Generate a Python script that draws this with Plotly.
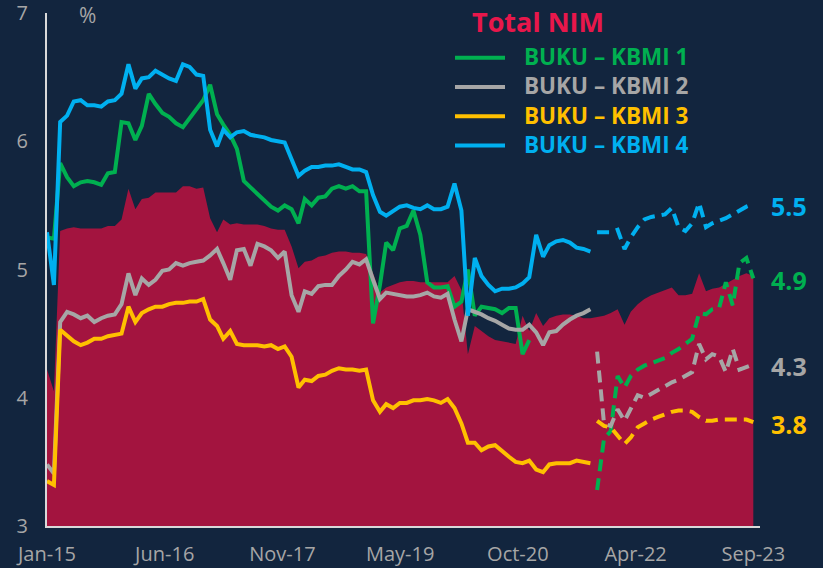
import pandas as pd
import plotly.graph_objects as go

# ---------------- data ----------------
months = pd.date_range("2015-01-01", "2023-09-01", freq="MS")  # Jan-15 .. Sep-23 (105 months)
n_actual = 81  # Jan-15 .. Sep-21 are reported values, later months projected

total_nim = [
    4.22, 4.05, 5.30, 5.32, 5.33, 5.32, 5.32, 5.32, 5.32, 5.34, 5.34, 5.39,
    5.63, 5.47, 5.55, 5.56, 5.60, 5.60, 5.60, 5.60, 5.65, 5.65, 5.63, 5.64,
    5.40, 5.29, 5.39, 5.35, 5.36, 5.35, 5.35, 5.35, 5.34, 5.32, 5.31, 5.31,
    5.18, 5.01, 5.06, 5.07, 5.10, 5.11, 5.13, 5.14, 5.14, 5.13, 5.13, 5.12,
    4.97, 4.82, 4.86, 4.88, 4.90, 4.91, 4.91, 4.90, 4.90, 4.90, 4.90, 4.90,
    4.95, 4.84, 4.34, 4.56, 4.52, 4.48, 4.45, 4.44, 4.43, 4.42, 4.64, 4.52,
    4.66, 4.56, 4.62, 4.64, 4.65, 4.65, 4.64, 4.62, 4.62, 4.63, 4.64, 4.66,
    4.69, 4.57, 4.67, 4.73, 4.77, 4.80, 4.82, 4.84, 4.86, 4.80, 4.80, 4.81,
    4.97, 4.83, 4.85, 4.86, 4.89, 4.92, 4.95, 4.97, 4.95,
]

kbmi1_actual = [
    5.25, 5.24, 5.83, 5.72, 5.65, 5.68, 5.69, 5.68, 5.66, 5.75, 5.76, 6.15,
    6.14, 6.01, 6.12, 6.37, 6.29, 6.22, 6.19, 6.14, 6.11, 6.18, 6.24, 6.32,
    6.44, 6.21, 6.13, 6.05, 5.94, 5.69, 5.64, 5.59, 5.54, 5.49, 5.46, 5.50,
    5.47, 5.36, 5.55, 5.50, 5.56, 5.57, 5.63, 5.65, 5.63, 5.65, 5.61, 5.61,
    4.58, 4.88, 5.21, 5.15, 5.32, 5.34, 5.46, 5.27, 4.90, 4.86, 4.86, 4.87,
    4.71, 4.75, 5.00, 4.64, 4.71, 4.70, 4.69, 4.66, 4.70, 4.70, 4.34, 4.45,
]
kbmi2_actual = [
    3.48, 3.41, 4.59, 4.67, 4.65, 4.62, 4.64, 4.59, 4.62, 4.64, 4.65, 4.73,
    4.97, 4.80, 4.93, 4.88, 4.92, 4.99, 5.00, 5.05, 5.03, 5.05, 5.06, 5.07,
    5.11, 5.16, 5.05, 4.92, 5.15, 5.16, 5.03, 5.20, 5.18, 5.15, 5.09, 5.14,
    4.80, 4.67, 4.83, 4.81, 4.87, 4.88, 4.88, 4.95, 5.00, 5.06, 5.04, 5.08,
    4.92, 4.77, 4.82, 4.81, 4.80, 4.79, 4.79, 4.80, 4.82, 4.79, 4.78, 4.81,
    4.61, 4.44, 4.69, 4.67, 4.65, 4.62, 4.60, 4.57, 4.54, 4.53, 4.53, 4.57,
    4.51, 4.41, 4.51, 4.52, 4.57, 4.61, 4.64, 4.66, 4.69,
]
kbmi3_actual = [
    3.35, 3.32, 4.53, 4.48, 4.44, 4.41, 4.43, 4.46, 4.46, 4.48, 4.49, 4.50,
    4.71, 4.59, 4.66, 4.69, 4.71, 4.71, 4.73, 4.74, 4.74, 4.75, 4.75, 4.77,
    4.61, 4.56, 4.46, 4.52, 4.42, 4.41, 4.41, 4.41, 4.40, 4.41, 4.38, 4.40,
    4.32, 4.08, 4.14, 4.13, 4.17, 4.18, 4.21, 4.23, 4.22, 4.22, 4.21, 4.22,
    3.98, 3.89, 3.95, 3.92, 3.96, 3.96, 3.98, 3.98, 3.99, 3.98, 3.96, 3.99,
    3.92, 3.80, 3.65, 3.65, 3.59, 3.62, 3.63, 3.58, 3.54, 3.50, 3.49, 3.51,
    3.44, 3.42, 3.48, 3.49, 3.49, 3.49, 3.51, 3.50, 3.49,
]
kbmi4_actual = [
    5.29, 4.88, 6.15, 6.20, 6.31, 6.32, 6.28, 6.28, 6.27, 6.31, 6.32, 6.37,
    6.60, 6.41, 6.49, 6.50, 6.55, 6.52, 6.49, 6.47, 6.60, 6.58, 6.52, 6.51,
    6.09, 5.96, 6.09, 6.03, 6.07, 6.08, 6.05, 6.04, 6.03, 6.01, 6.00, 5.99,
    5.86, 5.73, 5.77, 5.80, 5.80, 5.81, 5.81, 5.82, 5.80, 5.78, 5.78, 5.76,
    5.58, 5.45, 5.42, 5.46, 5.49, 5.50, 5.48, 5.47, 5.50, 5.47, 5.47, 5.49,
    5.67, 5.46, 4.64, 5.09, 4.95, 4.88, 4.83, 4.85, 4.85, 4.86, 4.89, 4.94,
    5.27, 5.10, 5.19, 5.22, 5.23, 5.21, 5.17, 5.16, 5.14,
]

# projected values Oct-21 .. Sep-23
kbmi1_proj = [3.28, 3.68, 3.74, 4.17, 4.08, 4.17, 4.22, 4.25, 4.27, 4.29, 4.31, 4.35,
              4.38, 4.42, 4.46, 4.66, 4.65, 4.69, 4.70, 4.90, 4.72, 5.05, 5.09, 4.93]
kbmi2_proj = [4.36, 3.80, 3.78, 3.91, 3.82, 3.91, 4.02, 4.00, 4.03, 4.06, 4.09, 4.12,
              4.14, 4.17, 4.20, 4.42, 4.30, 4.34, 4.32, 4.20, 4.38, 4.22, 4.24, 4.26]
kbmi3_proj = [3.82, 3.78, 3.77, 3.70, 3.64, 3.69, 3.77, 3.80, 3.83, 3.85, 3.87, 3.89,
              3.90, 3.90, 3.89, 3.85, 3.82, 3.82, 3.83, 3.83, 3.83, 3.83, 3.83, 3.81]
kbmi4_proj = [5.29, 5.29, 5.29, 5.31, 5.16, 5.25, 5.33, 5.39, 5.41, 5.42, 5.43, 5.48,
              5.33, 5.30, 5.36, 5.52, 5.33, 5.36, 5.38, 5.40, 5.43, 5.46, 5.49, 5.51]

series_names = ["BUKU \u2013 KBMI 1", "BUKU \u2013 KBMI 2", "BUKU \u2013 KBMI 3", "BUKU \u2013 KBMI 4"]
end_labels = ["4.9", "4.3", "3.8", "5.5"]
x_tick_labels = ["Jan-15", "Jun-16", "Nov-17", "May-19", "Oct-20", "Apr-22", "Sep-23"]
y_ticks = [3, 4, 5, 6, 7]
area_name = "Total NIM"
unit_label = "%"

# ---------------- style ----------------
BG = "#12253E"
AREA = "#A3143F"
TITLE_RED = "#E8174B"
TICK_GREY = "#A6A6A6"
COLORS = ["#00B050", "#A6A6A6", "#FFC000", "#00B0F0"]
FONT = "Open Sans"
W, H = 823, 568
ML, MR, MT, MB = 47, 63, 13, 42
PW, PH = W - ML - MR, H - MT - MB


def px(x):
    return (x - ML) / PW


def py(y):
    return (H - MB - y) / PH


actual = [kbmi1_actual, kbmi2_actual, kbmi3_actual, kbmi4_actual]
proj = [kbmi1_proj, kbmi2_proj, kbmi3_proj, kbmi4_proj]

fig = go.Figure()
fig.add_trace(go.Scatter(
    x=months, y=total_nim, mode="lines", name=area_name,
    line=dict(width=0, color=AREA), fill="tozeroy", fillcolor=AREA,
    showlegend=False, hoverinfo="x+y",
))

proj_x = months[n_actual:]
for name, a, p, c in zip(series_names, actual, proj, COLORS):
    fig.add_trace(go.Scatter(
        x=months[:len(a)], y=a, mode="lines", name=name,
        line=dict(color=c, width=4), showlegend=False,
    ))
    fig.add_trace(go.Scatter(
        x=proj_x, y=p, mode="lines", name=name + " (proj.)",
        line=dict(color=c, width=4, dash="12px,7px"), showlegend=False,
    ))

# tick positions evenly spaced over the time span
t0, t1 = months[0], months[-1]
tickvals = [t0 + (t1 - t0) * k / (len(x_tick_labels) - 1) for k in range(len(x_tick_labels))]

annotations = []
annotations.append(dict(x=px(87), y=py(15), xref="paper", yref="paper", text=unit_label,
                        xanchor="center", yanchor="middle", showarrow=False,
                        font=dict(family=FONT, size=21, color=TICK_GREY)))
annotations.append(dict(x=px(538), y=py(21), xref="paper", yref="paper", text="<b>%s</b>" % area_name,
                        xanchor="center", yanchor="middle", showarrow=False,
                        font=dict(family=FONT, size=27, color=TITLE_RED)))

# legend block: one multi-line text, each line in its series colour
LEG_SIZE = 22.5
line_gap = LEG_SIZE * 1.3
leg_center = 100.5
rows_y = [leg_center + (i - 1.5) * line_gap for i in range(len(series_names))]
legend_text = "<br>".join(
    "<span style='color:%s'><b>%s</b></span>" % (c, n) for n, c in zip(series_names, COLORS)
)
annotations.append(dict(x=px(522), y=py(leg_center), xref="paper", yref="paper", text=legend_text,
                        xanchor="left", yanchor="middle", align="left", showarrow=False,
                        font=dict(family=FONT, size=LEG_SIZE, color=COLORS[0])))
shapes = []
for c, ry in zip(COLORS, rows_y):
    shapes.append(dict(type="line", xref="paper", yref="paper", x0=px(455), x1=px(505),
                       y0=py(ry + 1), y1=py(ry + 1), line=dict(color=c, width=4)))

for lbl, p, c in zip(end_labels, proj, COLORS):
    annotations.append(dict(x=px(789), y=p[-1], xref="paper", yref="y", text="<b>%s</b>" % lbl,
                            xanchor="center", yanchor="middle", showarrow=False, yshift=-2,
                            font=dict(family=FONT, size=25, color=c)))

fig.update_layout(
    width=W, height=H,
    margin=dict(l=ML, r=MR, t=MT, b=MB, pad=0, autoexpand=False),
    paper_bgcolor=BG, plot_bgcolor=BG,
    font=dict(family=FONT, color=TICK_GREY),
    showlegend=False,
    annotations=annotations, shapes=shapes,
    xaxis=dict(
        range=[t0, pd.Timestamp("2023-10-01")],
        tickvals=tickvals, ticktext=x_tick_labels,
        showgrid=False, zeroline=False, showline=True, linecolor="#D9D9D9", linewidth=2,
        ticks="", tickfont=dict(family=FONT, size=20, color=TICK_GREY), ticklabelstandoff=9,
        automargin=False, ticklabeloverflow="allow",
    ),
    yaxis=dict(
        range=[3, 7], tickvals=y_ticks,
        showgrid=False, zeroline=False, showline=True, linecolor="#D9D9D9", linewidth=2,
        ticks="", tickfont=dict(family=FONT, size=20, color=TICK_GREY), ticklabelstandoff=13,
        automargin=False, ticklabeloverflow="allow",
    ),
)

fig.write_html(
    "out.html",
    config={"displayModeBar": False},
    post_script="document.body.style.margin='0px';document.body.style.background='%s';" % BG,
)
